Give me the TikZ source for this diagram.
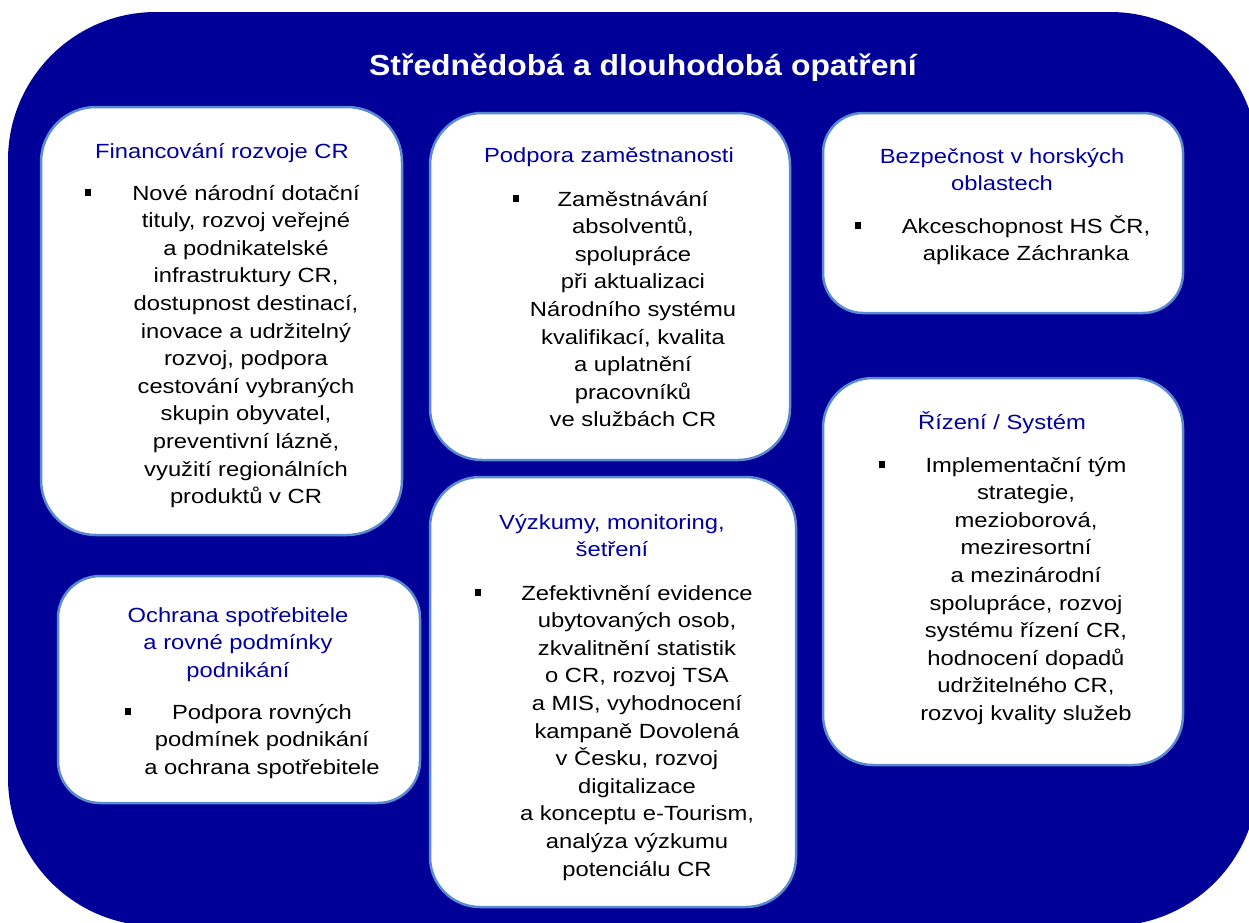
\documentclass[tikz,border=0pt]{standalone}
\usepackage{fontspec}
\setmainfont{Liberation Sans}[FakeStretch=1.16]
\newfontfamily\titlefont{Liberation Sans}[FakeStretch=1.10]
\definecolor{navy}{RGB}{0,0,153}
\definecolor{hdrblue}{RGB}{0,0,160}
\definecolor{edgeblue}{RGB}{90,138,210}
\newcommand{\mlines}[1]{\begin{tabular}[t]{@{}c@{}}#1\end{tabular}}
\begin{document}
\begin{tikzpicture}[x=1pt,y=-1pt,
  panel/.style={draw=edgeblue, line width=2.5pt, fill=white, inner sep=0pt, rectangle},
  head/.style={anchor=base, text=hdrblue, inner sep=0pt, font=\fontsize{20.5}{27.6}\selectfont},
  body/.style={anchor=base, text=black, inner sep=0pt, font=\fontsize{20.5}{27.6}\selectfont},
  bul/.style={fill=black, inner sep=0pt, minimum width=6.5pt, minimum height=6.5pt, rectangle}]
\useasboundingbox (0,0) rectangle (1249,922);
\begin{scope}
\clip (0,0) rectangle (1249,922);
\fill[navy, rounded corners=148pt] (8,12) rectangle (1258,926);
\end{scope}
\node[anchor=base, text=white, inner sep=0pt, font=\titlefont\bfseries\fontsize{29}{34}\selectfont] (title) at (643,75) {Střednědobá a dlouhodobá opatření};
% panels
\node[panel, rounded corners=55pt, minimum width=361pt, minimum height=428pt] (p1) at (221.5,321) {};
\node[panel, rounded corners=52pt, minimum width=360pt, minimum height=347pt] (p2) at (610,286.5) {};
\node[panel, rounded corners=40pt, minimum width=360pt, minimum height=200pt] (p3) at (1003,213) {};
\node[panel, rounded corners=50pt, minimum width=360pt, minimum height=387pt] (p4) at (1003,571.5) {};
\node[panel, rounded corners=50pt, minimum width=366pt, minimum height=430pt] (p5) at (613,692) {};
\node[panel, rounded corners=42pt, minimum width=362pt, minimum height=227pt] (p6) at (239,689.5) {};
% headers
\node[head] (h1) at (222,158) {\mlines{Financování rozvoje CR}};
\node[head] (h2) at (609,162) {\mlines{Podpora zaměstnanosti}};
\node[head] (h3) at (1002,163) {\mlines{Bezpečnost v horských\\oblastech}};
\node[head] (h4) at (1002,429) {\mlines{Řízení / Systém}};
\node[head] (h5) at (612,529) {\mlines{Výzkumy, monitoring,\\šetření}};
\node[head] (h6) at (238,622) {\mlines{Ochrana spotřebitele\\a rovné podmínky\\podnikání}};
% bullets
\node[bul] (u1) at (88,192.5) {};
\node[bul] (u2) at (516,198.5) {};
\node[bul] (u3) at (858,225.5) {};
\node[bul] (u4) at (882,464.5) {};
\node[bul] (u5) at (478,592.5) {};
\node[bul] (u6) at (128,711.5) {};
% bodies
\node[body] (t1) at (246,200) {\mlines{Nové národní dotační\\tituly, rozvoj veřejné\\a podnikatelské\\infrastruktury CR,\\dostupnost destinací,\\inovace a udržitelný\\rozvoj, podpora\\cestování vybraných\\skupin obyvatel,\\preventivní lázně,\\využití regionálních\\produktů v CR}};
\node[body] (t2) at (633,206) {\mlines{Zaměstnávání\\absolventů,\\spolupráce\\při aktualizaci\\Národního systému\\kvalifikací, kvalita\\a uplatnění\\pracovníků\\ve službách CR}};
\node[body] (t3) at (1026,233) {\mlines{Akceschopnost HS ČR,\\aplikace Záchranka}};
\node[body] (t4) at (1026,472) {\mlines{Implementační tým\\strategie,\\mezioborová,\\meziresortní\\a mezinárodní\\spolupráce, rozvoj\\systému řízení CR,\\hodnocení dopadů\\udržitelného CR,\\rozvoj kvality služeb}};
\node[body] (t5) at (637,600) {\mlines{Zefektivnění evidence\\ubytovaných osob,\\zkvalitnění statistik\\o CR, rozvoj TSA\\a MIS, vyhodnocení\\kampaně Dovolená\\v Česku, rozvoj\\digitalizace\\a konceptu e-Tourism,\\analýza výzkumu\\potenciálu CR}};
\node[body] (t6) at (262,719) {\mlines{Podpora rovných\\podmínek podnikání\\a ochrana spotřebitele}};
\end{tikzpicture}
\end{document}
